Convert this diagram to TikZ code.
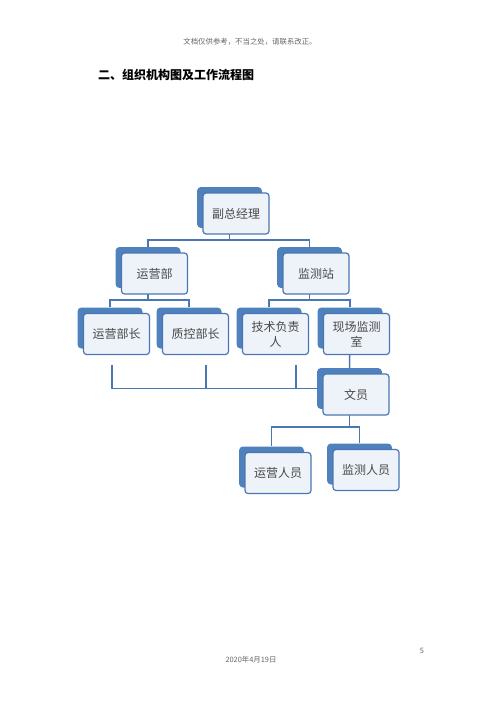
\documentclass[tikz,border=0pt]{standalone}
\usepackage{fontspec}
\newfontfamily\cjk{Noto Sans CJK SC}
\usetikzlibrary{calc,backgrounds}
\definecolor{bback}{HTML}{4F81BD}
\definecolor{bline}{HTML}{4A77B4}
\definecolor{bfill}{HTML}{EEF3FA}
\definecolor{btext}{HTML}{484848}
\newcommand\orgnode[3]{%
  \node[backbox] (#1-b) at ($(#2)+(-6.5,-6)$) {};
  \node[frontbox] (#1) at (#2) {#3};}
\begin{document}
\begin{tikzpicture}[x=1pt,y=-1pt,
  frontbox/.style={draw=bline, line width=1.2pt, fill=bfill, rounded corners=3pt,
    minimum width=66pt, minimum height=41pt, inner sep=2pt, align=center,
    font=\cjk\fontsize{12}{15}\selectfont, text=btext},
  backbox/.style={fill=bback, rounded corners=4pt, minimum width=65pt,
    minimum height=41pt, inner sep=0pt},
  conn/.style={draw=bline, line width=1.5pt},
  smalltext/.style={font=\cjk\fontsize{7.4}{9}\selectfont, text=black!60, inner sep=0pt}]
\useasboundingbox (0,0) rectangle (500,707);

\node[smalltext] (hdr) at (250,42) {文档仅供参考，不当之处，请联系改正。};
\node[anchor=west, font=\cjk\bfseries\fontsize{12}{14}\selectfont, inner sep=0pt] (title) at (98,75) {二、组织机构图及工作流程图};
\node[smalltext] (foot) at (251,660) {2020年4月19日};
\node[smalltext] (pg) at (422,651) {5};

\orgnode{fzjl}{236,213.5}{副总经理}
\orgnode{yyb}{154.5,273.5}{运营部}
\orgnode{jcz}{316,273.5}{监测站}
\orgnode{yybz}{116.5,334}{运营部长}
\orgnode{zkbz}{195.5,334}{质控部长}
\orgnode{jsfzr}{275.5,334}{技术负责\\人}
\orgnode{xcjcs}{356.5,334}{现场监测\\室}
\orgnode{wy}{356,394.5}{文员}
\orgnode{yyry}{278,473}{运营人员}
\orgnode{jcry}{366,470}{监测人员}

\coordinate (b1) at (112,365);
\coordinate (b2) at (206,365);
\coordinate (b3) at (296,365);

\begin{scope}[on background layer]
  \fill[white] (0,0) rectangle (500,707);
  \draw[conn] (fzjl-b.center) -- ($(fzjl-b.south)+(0,12)$) -| (yyb-b.north);
  \draw[conn] ($(fzjl-b.south)+(0,12)$) -| (jcz-b.north);
  \draw[conn] (yyb-b.center) -- ($(yyb-b.south)+(0,12)$) -| (yybz-b.north);
  \draw[conn] ($(yyb-b.south)+(0,12)$) -| (zkbz-b.north);
  \draw[conn] (jcz-b.center) -- ($(jcz-b.south)+(0,12)$) -| (jsfzr-b.north);
  \draw[conn] ($(jcz-b.south)+(0,12)$) -| (xcjcs-b.north);
  \draw[conn] (xcjcs-b.center) -- (wy-b.north);
  \draw[conn] (b1) |- (wy-b.west);
  \draw[conn] (b2) -- (b2 |- wy-b.west);
  \draw[conn] (b3) -- (b3 |- wy-b.west);
  \draw[conn] (wy-b.center) -- ($(wy-b.south)+(0,18)$) -| (yyry-b.north);
  \draw[conn] ($(wy-b.south)+(0,18)$) -| (jcry-b.north);
\end{scope}
\end{tikzpicture}
\end{document}
